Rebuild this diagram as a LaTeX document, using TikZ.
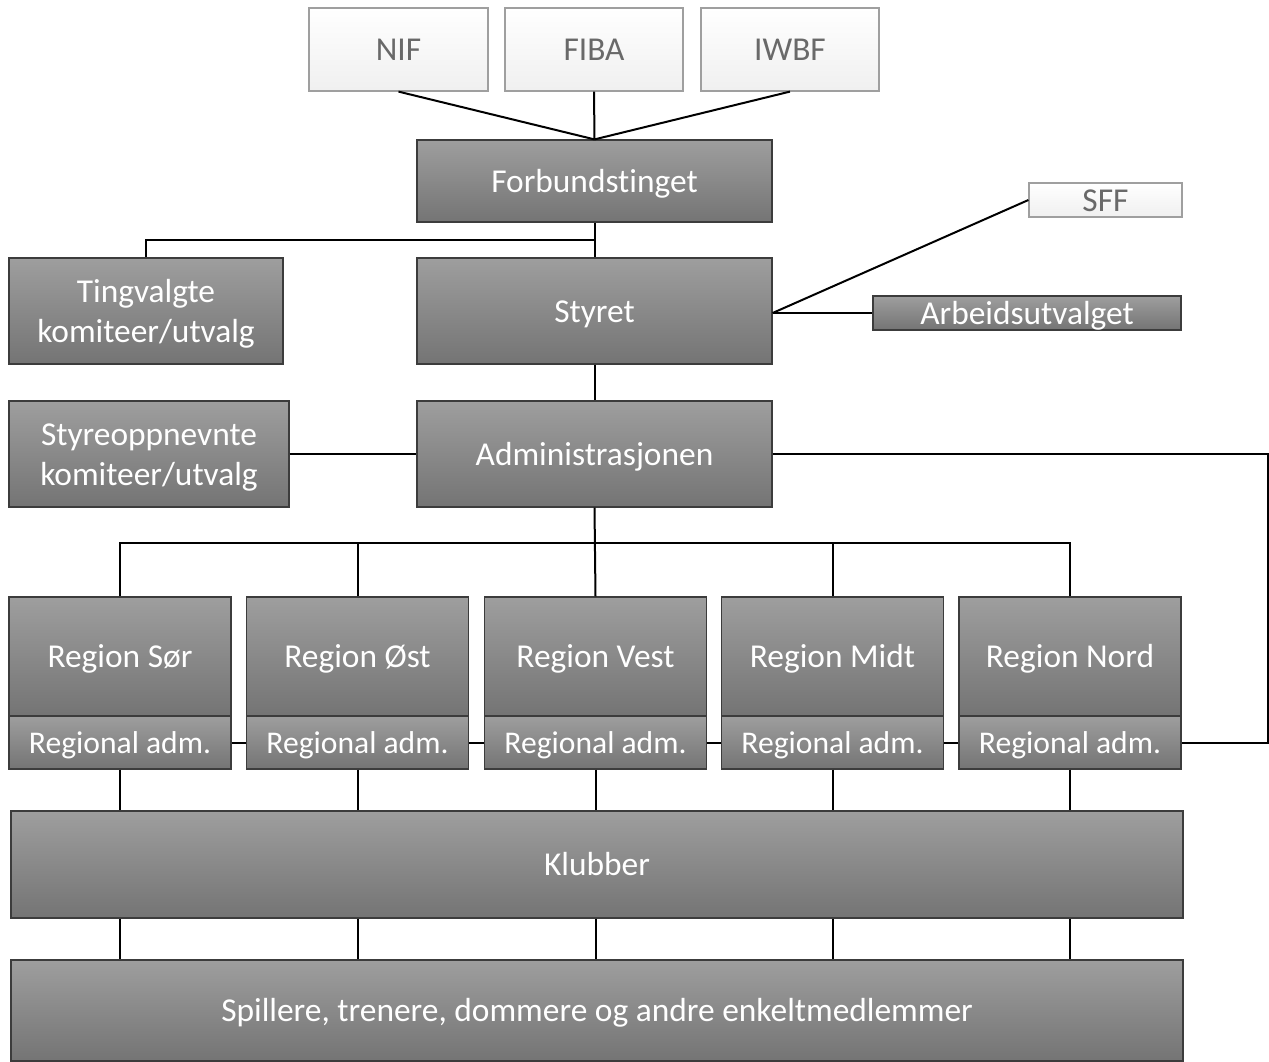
\documentclass[tikz,border=0pt]{standalone}
\usepackage{fontspec}
\setmainfont{Carlito}[Ligatures=NoCommon]
\usepackage{tikz}
\usepackage{xcolor}

\definecolor{boxtop}{RGB}{158,158,158}
\definecolor{boxbot}{RGB}{116,116,116}
\definecolor{boxline}{RGB}{60,60,60}
\definecolor{lighttext}{RGB}{105,105,105}

\begin{document}
\begin{tikzpicture}[x=1pt, y=-1pt,
    every node/.style={font=\fontsize{33.4}{40}\selectfont, inner sep=0pt, text height=27pt, text depth=5pt},
    twolines/.style={text height=68pt, text depth=5pt},
    darkbox/.style={draw=boxline, line width=1.2pt, top color=boxtop, bottom color=boxbot, text=white, align=center},
    lightbox/.style={draw=gray!75, line width=1.2pt, top color=white, bottom color=gray!12, text=lighttext},
    admbox/.style={darkbox, font=\fontsize{31.6}{38}\selectfont, text height=26pt},
    link/.style={draw=black, line width=2pt}]
      \useasboundingbox (0,0) rectangle (1269,1061);

      % top level
      \node[lightbox, minimum width=179pt, minimum height=83pt] (nif) at (398.5,49.5) {NIF};
      \node[lightbox, minimum width=178pt, minimum height=83pt] (fiba) at (594,49.5) {FIBA};
      \node[lightbox, minimum width=178pt, minimum height=83pt] (iwbf) at (790,49.5) {IWBF};
      \node[darkbox, minimum width=355pt, minimum height=82pt] (forb) at (594.5,181) {Forbundstinget};

      \node[lightbox, minimum width=153pt, minimum height=34pt] (sff) at (1105.5,200) {SFF};
      \node[darkbox, twolines, minimum width=274pt, minimum height=106pt] (ting) at (146,311) {Tingvalgte\\komiteer/utvalg};
      \node[darkbox, minimum width=355pt, minimum height=106pt] (styret) at (594.5,311) {Styret};
      \node[darkbox, minimum width=308pt, minimum height=34pt] (arb) at (1027,313) {Arbeidsutvalget};

      \node[darkbox, twolines, minimum width=280pt, minimum height=106pt] (styre) at (149,454) {Styreoppnevnte\\komiteer/utvalg};
      \node[darkbox, minimum width=355pt, minimum height=106pt] (adm) at (594.5,454) {Administrasjonen};

      % regions
      \foreach \name/\label/\x in {sor/Region Sør/120, ost/Region Øst/357.5, vest/Region Vest/595.5, midt/Region Midt/832.5, nord/Region Nord/1070} {
        \node[darkbox, minimum width=222pt, minimum height=119pt] (\name) at (\x,656.5) {\label};
        \node[admbox, minimum width=222pt, minimum height=53pt] (\name-a) at (\x,742.5) {Regional adm.};
      }

      \node[darkbox, minimum width=1172pt, minimum height=107pt] (klubber) at (597,864.5) {Klubber};
      \node[darkbox, minimum width=1172pt, minimum height=101pt] (spill) at (597,1010.5) {Spillere, trenere, dommere og andre enkeltmedlemmer};

      % connectors
      \coordinate (tj) at (595,240);
      \coordinate (rj) at (595,543);
      \coordinate (rt) at (1268,454);

      \draw[link] (nif.south) -- (forb.north);
      \draw[link] (fiba.south) -- (forb.north);
      \draw[link] (iwbf.south) -- (forb.north);
      \draw[link] (forb.south) -- (styret.north);
      \draw[link] (tj) -| (ting.north);
      \draw[link] (styret.east |- arb.west) -- (sff.west);
      \draw[link] (styret.east |- arb.west) -- (arb.west);
      \draw[link] (styret.south) -- (adm.north);
      \draw[link] (styre.east) -- (adm.west);
      \draw[link] (adm.east) -- (rt) |- (nord-a.east);
      \draw[link] (adm.south) -- (vest.north);
      \foreach \n in {sor, ost, midt, nord}
        \draw[link] (\n.north) |- (rj);
      \foreach \a/\b in {sor/ost, ost/vest, vest/midt, midt/nord}
        \draw[link] (\a-a.east) -- (\b-a.west);
      \foreach \n in {sor, ost, vest, midt, nord} {
        \draw[link] (\n-a.south) -- (\n-a.south |- klubber.north);
        \draw[link] (\n-a.south |- klubber.south) -- (\n-a.south |- spill.north);
      }
\end{tikzpicture}
\end{document}
